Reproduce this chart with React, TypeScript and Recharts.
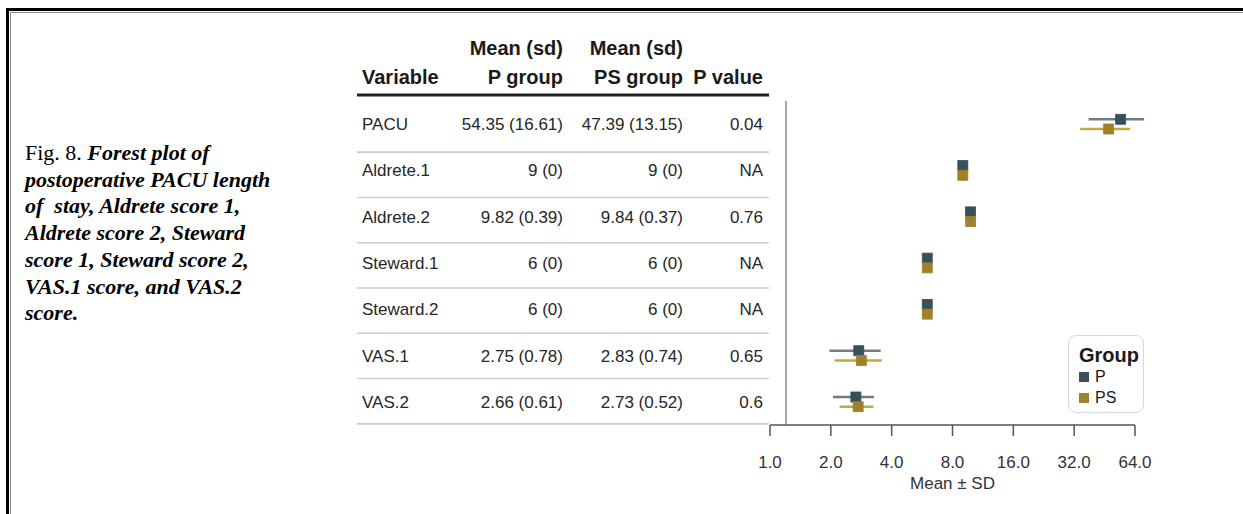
import React from 'react';
import {
  ComposedChart,
  Scatter,
  ErrorBar,
  XAxis,
  YAxis,
  ReferenceLine,
  Legend,
  Customized,
} from 'recharts';

// Outcome variables, one table row / forest row each
const variables = ['PACU', 'Aldrete.1', 'Aldrete.2', 'Steward.1', 'Steward.2', 'VAS.1', 'VAS.2'];
const pMean = [54.35, 9, 9.82, 6, 6, 2.75, 2.66];
const pSd = [16.61, 0, 0.39, 0, 0, 0.78, 0.61];
const psMean = [47.39, 9, 9.84, 6, 6, 2.83, 2.73];
const psSd = [13.15, 0, 0.37, 0, 0, 0.74, 0.52];
const pValues = ['0.04', 'NA', '0.76', 'NA', 'NA', '0.65', '0.6'];
const xTicks = [1, 2, 4, 8, 16, 32, 64];
const rowIndex = variables.map((_, i) => i);

const P_COLOR = '#36505c';
const P_LINE = '#6d7d86';
const PS_COLOR = '#a08029';
const PS_LINE = '#c2a93c';

const SANS = '"Liberation Sans", Arial, Helvetica, sans-serif';
const SERIF = '"Liberation Serif", "Times New Roman", serif';

// within a row the P group sits slightly above, PS slightly below
const pData = variables.map((name, i) => ({ name, x: pMean[i], y: i - 0.105, sd: pSd[i] }));
const psData = variables.map((name, i) => ({ name, x: psMean[i], y: i + 0.105, sd: psSd[i] }));

const fmt = (m: number, s: number) => `${m} (${s})`;

// table column anchors
const COL_VAR = 362;
const COL_P = 563;
const COL_PS = 683;
const COL_PV = 763;
const TABLE_LEFT = 357;
const TABLE_RIGHT = 769;

const bodyText = { fontFamily: SANS, fontSize: 17, fill: '#262626' };
const headText = { fontFamily: SANS, fontSize: 20, fontWeight: 700, fill: '#1a1a1a' };

function TableRowTick(props: any) {
  const { y, payload } = props;
  const i = payload.value as number;
  // the table grid runs a touch tighter than the plot rows
  const sepY = y + 28 - i;
  return (
    <g>
      <text x={COL_VAR} y={y} dy="0.35em" {...bodyText}>{variables[i]}</text>
      <text x={COL_P} y={y} dy="0.35em" textAnchor="end" {...bodyText}>{fmt(pMean[i], pSd[i])}</text>
      <text x={COL_PS} y={y} dy="0.35em" textAnchor="end" {...bodyText}>{fmt(psMean[i], psSd[i])}</text>
      <text x={COL_PV} y={y} dy="0.35em" textAnchor="end" {...bodyText}>{pValues[i]}</text>
      <line x1={TABLE_LEFT} x2={TABLE_RIGHT} y1={sepY} y2={sepY} stroke="#cdcdcd" strokeWidth={1.6} />
    </g>
  );
}

function TableHeader() {
  return (
    <g>
      <text x={COL_P} y={48} dy="0.35em" textAnchor="end" {...headText}>Mean (sd)</text>
      <text x={COL_PS} y={48} dy="0.35em" textAnchor="end" {...headText}>Mean (sd)</text>
      <text x={COL_VAR} y={77} dy="0.35em" {...headText}>Variable</text>
      <text x={COL_P} y={77} dy="0.35em" textAnchor="end" {...headText}>P group</text>
      <text x={COL_PS} y={77} dy="0.35em" textAnchor="end" {...headText}>PS group</text>
      <text x={COL_PV} y={77} dy="0.35em" textAnchor="end" {...headText}>P value</text>
      <line x1={TABLE_LEFT} x2={TABLE_RIGHT} y1={95} y2={95} stroke="#222" strokeWidth={3} />
    </g>
  );
}

const squareShape = (fill: string) => (props: any) => {
  const { cx, cy } = props;
  return <rect x={cx - 5} y={cy - 5} width={10} height={10} fill={fill} stroke={fill} strokeWidth={0.8} />;
};

function GroupLegend(props: any) {
  const items = (props.payload || []) as any[];
  return (
    <div
      style={{
        width: 76,
        height: 78,
        boxSizing: 'border-box',
        border: '1.5px solid #d8d8d8',
        borderRadius: 8,
        padding: '8px 0 0 10px',
        fontFamily: SANS,
        color: '#1a1a1a',
        background: '#fff',
      }}
    >
      <div style={{ fontSize: 20, fontWeight: 700, lineHeight: '23px' }}>Group</div>
      {items.map((it) => (
        <div key={it.value} style={{ display: 'flex', alignItems: 'center', height: 20.6 }}>
          <span style={{ display: 'inline-block', width: 10, height: 10, background: it.color, marginRight: 6 }} />
          <span style={{ fontSize: 16, lineHeight: '20px' }}>{it.value}</span>
        </div>
      ))}
    </div>
  );
}

const captionLines = [
  'postoperative PACU length',
  'of  stay, Aldrete score 1,',
  'Aldrete score 2, Steward',
  'score 1, Steward score 2,',
  'VAS.1 score, and VAS.2',
  'score.',
];

export default function App() {
  return (
    <div
      style={{
        position: 'absolute',
        left: 0,
        top: 0,
        width: 1243,
        height: 514,
        background: '#fff',
        overflow: 'hidden',
      }}
    >
      {/* double frame rule, top and left */}
      <div style={{ position: 'absolute', left: 6, right: 0, top: 7.5, height: 3.5, background: '#000' }} />
      <div style={{ position: 'absolute', left: 10, right: 0, top: 12, height: 1.3, background: '#8a8a8a' }} />
      <div style={{ position: 'absolute', left: 6, top: 7.5, bottom: 0, width: 3, background: '#000' }} />
      <div style={{ position: 'absolute', left: 10, top: 12, bottom: 0, width: 1.3, background: '#8a8a8a' }} />

      <div
        style={{
          position: 'absolute',
          left: 25,
          top: 140,
          fontFamily: SERIF,
          fontSize: 22,
          lineHeight: '26.7px',
          color: '#000',
          whiteSpace: 'pre',
        }}
      >
        <div>
          Fig. 8. <span style={{ fontStyle: 'italic', fontWeight: 700 }}>Forest plot of</span>
        </div>
        {captionLines.map((l) => (
          <div key={l} style={{ fontStyle: 'italic', fontWeight: 700 }}>{l}</div>
        ))}
      </div>

      <div style={{ position: 'absolute', left: 0, top: 0 }}>
        <ComposedChart width={1243} height={514} margin={{ top: 101, right: 108, bottom: 15, left: 0 }}>
          <XAxis
            type="number"
            dataKey="x"
            scale="log"
            domain={[1, 64]}
            ticks={xTicks}
            allowDataOverflow
            tickFormatter={(v: number) => v.toFixed(1)}
            height={74}
            tickSize={11}
            tickMargin={20}
            axisLine={{ stroke: '#555', strokeWidth: 1.5 }}
            tickLine={{ stroke: '#555', strokeWidth: 1.5 }}
            tick={{ fontFamily: SANS, fontSize: 17, fill: '#333' }}
            label={{
              value: 'Mean ± SD',
              position: 'insideBottom',
              offset: 10,
              style: { fontFamily: SANS, fontSize: 17, fill: '#333' },
            }}
          />
          <YAxis
            type="number"
            dataKey="y"
            domain={[-0.5, 6.5]}
            reversed
            ticks={rowIndex}
            interval={0}
            width={770}
            axisLine={false}
            tickLine={false}
            tick={(p: any) => <TableRowTick {...p} />}
          />
          <ReferenceLine x={1.2} stroke="#8c8c8c" strokeWidth={1.5} ifOverflow="extendDomain" />
          <Customized component={TableHeader} />
          <Scatter name="P" data={pData} fill={P_COLOR} shape={squareShape(P_COLOR)} isAnimationActive={false}>
            <ErrorBar dataKey="sd" direction="x" width={0} stroke={P_LINE} strokeWidth={2.6} isAnimationActive={false} />
          </Scatter>
          <Scatter name="PS" data={psData} fill={PS_COLOR} shape={squareShape(PS_COLOR)} isAnimationActive={false}>
            <ErrorBar dataKey="sd" direction="x" width={0} stroke={PS_LINE} strokeWidth={2.6} isAnimationActive={false} />
          </Scatter>
          <Legend
            layout="horizontal"
            align="center"
            verticalAlign="middle"
            content={(p: any) => <GroupLegend {...p} />}
            wrapperStyle={{ left: 1068, top: 335, width: 76, height: 78 }}
          />
        </ComposedChart>
      </div>
    </div>
  );
}
